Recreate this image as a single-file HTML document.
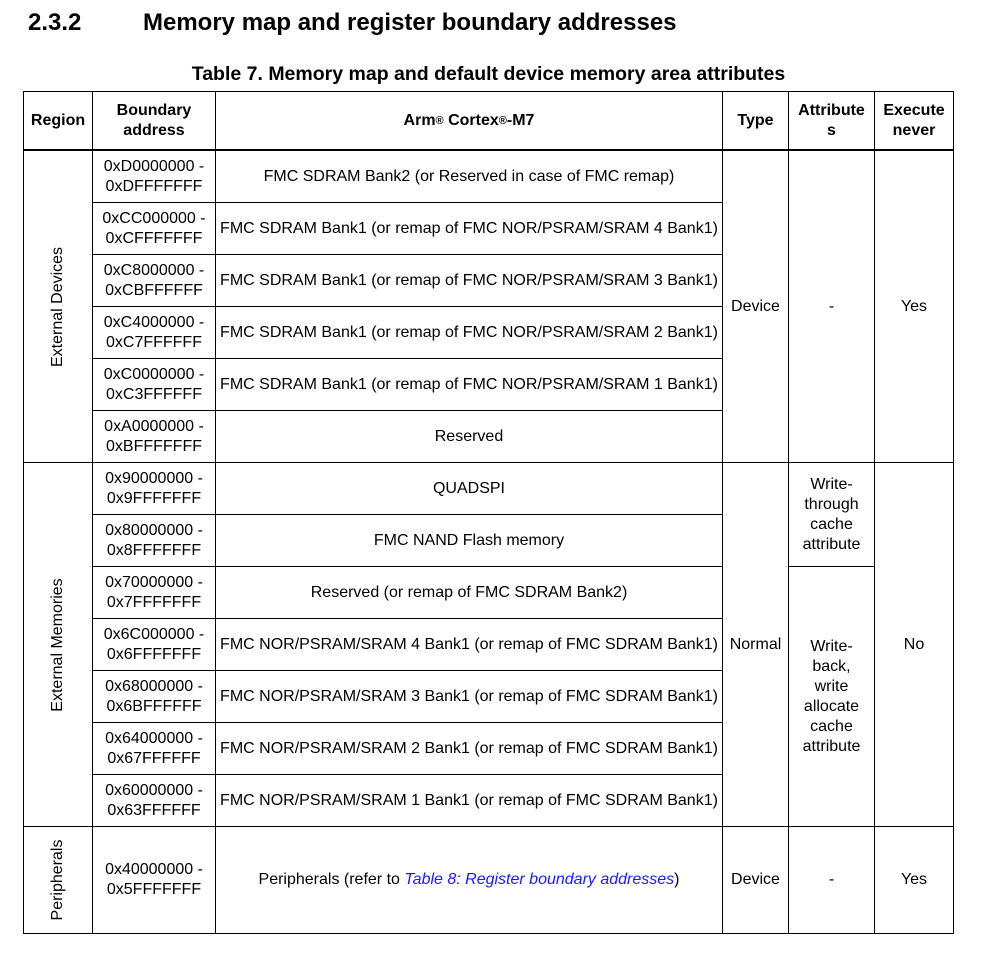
<!DOCTYPE html>
<html><head><meta charset="utf-8"><style>
body{margin:0;background:#fff;width:989px;height:967px;position:relative;font-family:"Liberation Sans",Arial,sans-serif;color:#000;overflow:hidden}
.h{position:absolute;height:1px;background:#000}
.v{position:absolute;width:1px;background:#000}
.c{position:absolute;display:flex;align-items:center;justify-content:center;text-align:center;font-size:16px;line-height:20px}
.b{font-weight:bold}
.r{position:absolute;transform:rotate(-90deg);font-size:16px;white-space:nowrap;text-align:center}
</style></head><body>
<div style="position:absolute;left:28px;top:9px;font-size:24px;font-weight:bold">2.3.2</div>
<div style="position:absolute;left:143px;top:9px;font-size:24px;font-weight:bold">Memory map and register boundary addresses</div>
<div style="position:absolute;left:0;width:977px;top:63px;text-align:center;font-size:19.5px;font-weight:bold;white-space:nowrap">Table 7. Memory map and default device memory area attributes</div>

<div class="h" style="left:23px;width:931px;top:91px"></div>
<div class="h" style="left:23px;width:931px;top:149px;height:2px"></div>
<div class="h" style="left:23px;width:931px;top:933px"></div>
<div class="h" style="left:23px;width:931px;top:462px"></div>
<div class="h" style="left:23px;width:931px;top:826px"></div>
<div class="v" style="left:23px;top:91px;height:843px"></div>
<div class="v" style="left:92px;top:91px;height:843px"></div>
<div class="v" style="left:215px;top:91px;height:843px"></div>
<div class="v" style="left:722px;top:91px;height:843px"></div>
<div class="v" style="left:788px;top:91px;height:843px"></div>
<div class="v" style="left:874px;top:91px;height:843px"></div>
<div class="v" style="left:953px;top:91px;height:843px"></div>
<div class="h" style="left:92px;width:631px;top:202px"></div>
<div class="h" style="left:92px;width:631px;top:254px"></div>
<div class="h" style="left:92px;width:631px;top:306px"></div>
<div class="h" style="left:92px;width:631px;top:358px"></div>
<div class="h" style="left:92px;width:631px;top:410px"></div>
<div class="h" style="left:92px;width:631px;top:514px"></div>
<div class="h" style="left:92px;width:631px;top:566px"></div>
<div class="h" style="left:92px;width:631px;top:618px"></div>
<div class="h" style="left:92px;width:631px;top:670px"></div>
<div class="h" style="left:92px;width:631px;top:722px"></div>
<div class="h" style="left:92px;width:631px;top:774px"></div>
<div class="h" style="left:788px;width:87px;top:566px"></div>

<div class="c b" style="left:23px;width:70px;top:91px;height:59px">Region</div>
<div class="c b" style="left:92px;width:124px;top:91px;height:59px">Boundary<br>address</div>
<div class="c b" style="left:215px;width:508px;top:91px;height:59px">Arm<sup style="font-size:11px;line-height:0">®</sup>&nbsp;Cortex<sup style="font-size:11px;line-height:0">®</sup>-M7</div>
<div class="c b" style="left:722px;width:67px;top:91px;height:59px">Type</div>
<div class="c b" style="left:788px;width:87px;top:91px;height:59px">Attribute<br>s</div>
<div class="c b" style="left:874px;width:80px;top:91px;height:59px">Execute<br>never</div>

<div class="c" style="left:92px;width:124px;top:151px;height:52px">0xD0000000 -<br>0xDFFFFFFF</div>
<div class="c" style="left:92px;width:124px;top:203px;height:52px">0xCC000000 -<br>0xCFFFFFFF</div>
<div class="c" style="left:92px;width:124px;top:255px;height:52px">0xC8000000 -<br>0xCBFFFFFF</div>
<div class="c" style="left:92px;width:124px;top:307px;height:52px">0xC4000000 -<br>0xC7FFFFFF</div>
<div class="c" style="left:92px;width:124px;top:359px;height:52px">0xC0000000 -<br>0xC3FFFFFF</div>
<div class="c" style="left:92px;width:124px;top:411px;height:52px">0xA0000000 -<br>0xBFFFFFFF</div>
<div class="c" style="left:92px;width:124px;top:463px;height:52px">0x90000000 -<br>0x9FFFFFFF</div>
<div class="c" style="left:92px;width:124px;top:515px;height:52px">0x80000000 -<br>0x8FFFFFFF</div>
<div class="c" style="left:92px;width:124px;top:567px;height:52px">0x70000000 -<br>0x7FFFFFFF</div>
<div class="c" style="left:92px;width:124px;top:619px;height:52px">0x6C000000 -<br>0x6FFFFFFF</div>
<div class="c" style="left:92px;width:124px;top:671px;height:52px">0x68000000 -<br>0x6BFFFFFF</div>
<div class="c" style="left:92px;width:124px;top:723px;height:52px">0x64000000 -<br>0x67FFFFFF</div>
<div class="c" style="left:92px;width:124px;top:775px;height:52px">0x60000000 -<br>0x63FFFFFF</div>
<div class="c" style="left:92px;width:124px;top:827px;height:106px">0x40000000 -<br>0x5FFFFFFF</div>

<div class="c" style="left:215px;width:508px;top:151px;height:52px">FMC SDRAM Bank2 (or Reserved in case of FMC remap)</div>
<div class="c" style="left:215px;width:508px;top:203px;height:52px">FMC SDRAM Bank1 (or remap of FMC NOR/PSRAM/SRAM 4 Bank1)</div>
<div class="c" style="left:215px;width:508px;top:255px;height:52px">FMC SDRAM Bank1 (or remap of FMC NOR/PSRAM/SRAM 3 Bank1)</div>
<div class="c" style="left:215px;width:508px;top:307px;height:52px">FMC SDRAM Bank1 (or remap of FMC NOR/PSRAM/SRAM 2 Bank1)</div>
<div class="c" style="left:215px;width:508px;top:359px;height:52px">FMC SDRAM Bank1 (or remap of FMC NOR/PSRAM/SRAM 1 Bank1)</div>
<div class="c" style="left:215px;width:508px;top:411px;height:52px">Reserved</div>
<div class="c" style="left:215px;width:508px;top:463px;height:52px">QUADSPI</div>
<div class="c" style="left:215px;width:508px;top:515px;height:52px">FMC NAND Flash memory</div>
<div class="c" style="left:215px;width:508px;top:567px;height:52px">Reserved (or remap of FMC SDRAM Bank2)</div>
<div class="c" style="left:215px;width:508px;top:619px;height:52px">FMC NOR/PSRAM/SRAM 4 Bank1 (or remap of FMC SDRAM Bank1)</div>
<div class="c" style="left:215px;width:508px;top:671px;height:52px">FMC NOR/PSRAM/SRAM 3 Bank1 (or remap of FMC SDRAM Bank1)</div>
<div class="c" style="left:215px;width:508px;top:723px;height:52px">FMC NOR/PSRAM/SRAM 2 Bank1 (or remap of FMC SDRAM Bank1)</div>
<div class="c" style="left:215px;width:508px;top:775px;height:52px">FMC NOR/PSRAM/SRAM 1 Bank1 (or remap of FMC SDRAM Bank1)</div>
<div class="c" style="left:215px;width:508px;top:827px;height:106px">Peripherals (refer to&nbsp;<i style="color:#1a1aff">Table 8: Register boundary addresses</i>)</div>

<div class="c" style="left:722px;width:67px;top:151px;height:312px">Device</div>
<div class="c" style="left:788px;width:87px;top:151px;height:312px">-</div>
<div class="c" style="left:874px;width:80px;top:151px;height:312px">Yes</div>
<div class="c" style="left:722px;width:67px;top:463px;height:364px">Normal</div>
<div class="c" style="left:788px;width:87px;top:463px;height:104px">Write-<br>through<br>cache<br>attribute</div>
<div class="c" style="left:788px;width:87px;top:567px;height:260px">Write-<br>back,<br>write<br>allocate<br>cache<br>attribute</div>
<div class="c" style="left:874px;width:80px;top:463px;height:364px">No</div>
<div class="c" style="left:722px;width:67px;top:827px;height:106px">Device</div>
<div class="c" style="left:788px;width:87px;top:827px;height:106px">-</div>
<div class="c" style="left:874px;width:80px;top:827px;height:106px">Yes</div>

<div class="r" style="left:-2px;top:297px;width:120px;line-height:20px">External Devices</div>
<div class="r" style="left:-12px;top:635px;width:140px;line-height:20px">External Memories</div>
<div class="r" style="left:8px;top:870px;width:100px;line-height:20px">Peripherals</div>
</body></html>
